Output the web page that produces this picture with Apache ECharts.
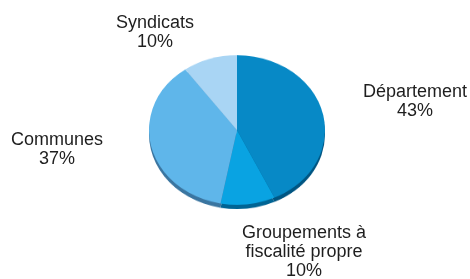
<!DOCTYPE html>
<html>
<head>
<meta charset="utf-8">
<script src="https://cdn.jsdelivr.net/npm/echarts@6/dist/echarts.min.js"></script>
<style>
  html, body { margin: 0; padding: 0; background: #fff; }
  .box { position: absolute; left: 0; top: 0; width: 470px; height: 279px; }
  /* the pie is tilted: squash it vertically around its centre */
  #pie { transform: scaleY(0.85); transform-origin: 237px 130px; }
</style>
</head>
<body>
<div id="pie" class="box"></div>
<div id="lbl" class="box"></div>
<script>
var categories = ['Département', 'Groupements à\nfiscalité propre', 'Communes', 'Syndicats'];
var shares = [43, 10, 37, 10];
var colors = ['#0789c6', '#09a3e2', '#5fb6ea', '#a9d5f4'];
var rimColors = ['#005582', '#006494', '#3a75a0', '#7fb0d6'];

// centre of each label block
var labelPos = [[415, 102], [304, 252], [57, 150], [155, 33]];

var data = categories.map(function (c, i) {
    return { name: c, value: shares[i] };
});

var pieChart = echarts.init(document.getElementById('pie'));
pieChart.setOption({
    animation: false,
    series: [{
        // thickness under the top face
        type: 'pie',
        center: [237, 135],
        radius: 88,
        startAngle: 90,
        silent: true,
        label: { show: false },
        labelLine: { show: false },
        z: 1,
        data: data.map(function (d, i) {
            return { name: d.name, value: d.value, itemStyle: { color: rimColors[i] } };
        })
    }, {
        type: 'pie',
        center: [237, 130],
        radius: 88,
        startAngle: 90,
        label: { show: false },
        labelLine: { show: false },
        z: 2,
        data: data.map(function (d, i) {
            return { name: d.name, value: d.value, itemStyle: { color: colors[i] } };
        })
    }]
});

var lblChart = echarts.init(document.getElementById('lbl'));
lblChart.setOption({
    animation: false,
    series: [{
        type: 'pie',
        center: [237, 130],
        radius: 88,
        startAngle: 90,
        silent: true,
        itemStyle: { color: 'rgba(0,0,0,0)' },
        labelLine: { show: false },
        label: {
            show: true,
            position: 'outside',
            overflow: 'none',
            formatter: function (p) {
                return p.name + '\n' + p.value + '%';
            },
            fontFamily: 'Liberation Sans, Arial, sans-serif',
            fontSize: 18,
            lineHeight: 19,
            color: '#1e1e1e',
            align: 'center'
        },
        labelLayout: function (p) {
            var pos = labelPos[p.dataIndex];
            return { x: pos[0], y: pos[1], align: 'center', verticalAlign: 'middle' };
        },
        data: data
    }]
});
</script>
</body>
</html>
